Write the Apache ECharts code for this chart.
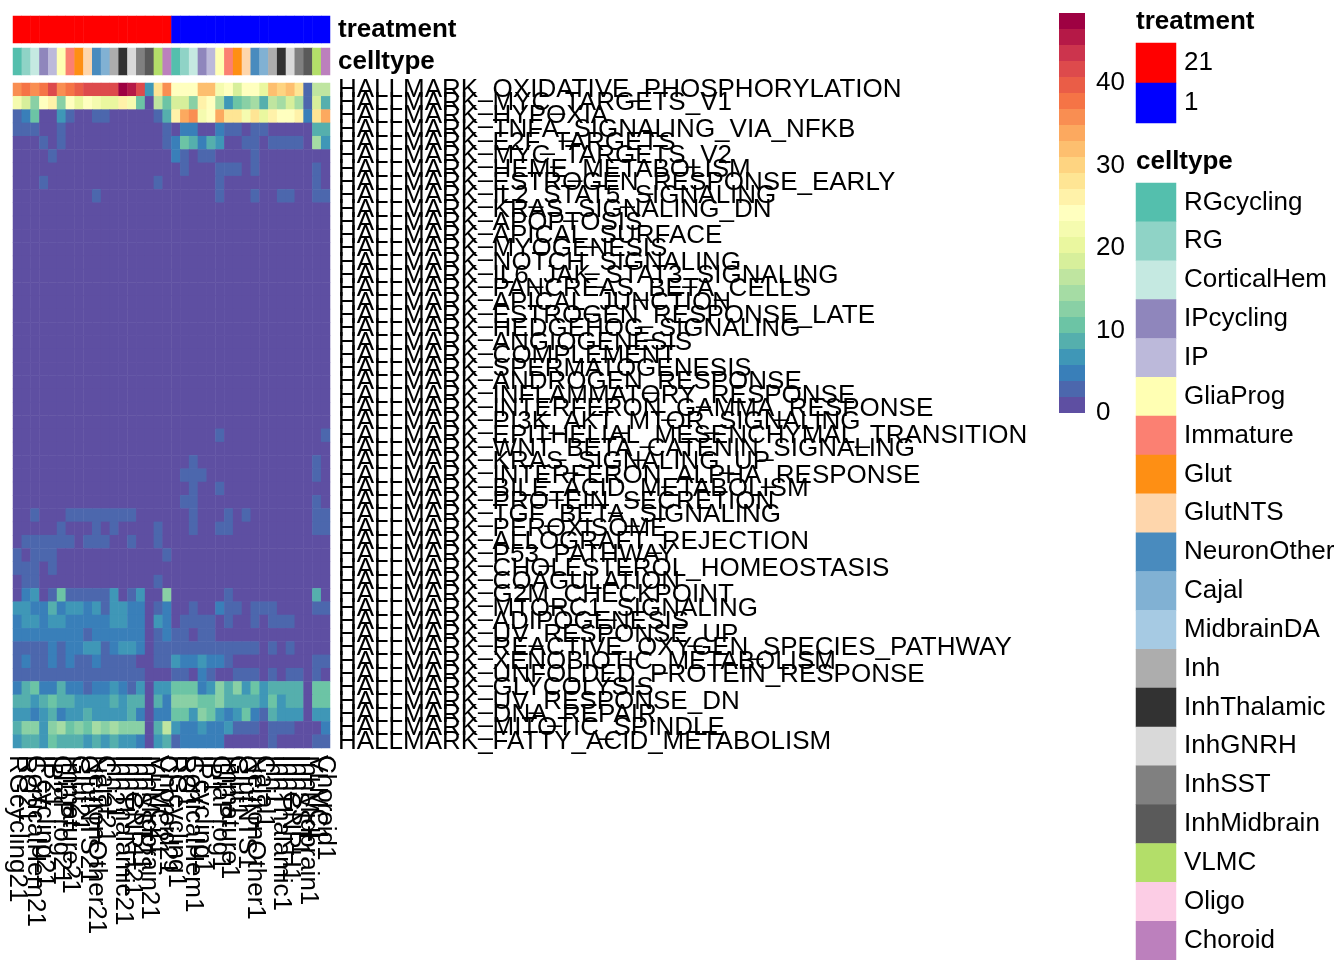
<!DOCTYPE html>
<html><head><meta charset="utf-8">
<style>html,body{margin:0;padding:0;background:#fff;overflow:hidden}#c{width:1344px;height:960px}</style>
<script src="https://cdn.jsdelivr.net/npm/echarts@6/dist/echarts.min.js"></script>
</head><body><div id="c"></div>
<script>
const celltypes = ["RGcycling","RG","CorticalHem","IPcycling","IP","GliaProg","Immature","Glut","GlutNTS","NeuronOther","Cajal","MidbrainDA","Inh","InhThalamic","InhGNRH","InhSST","InhMidbrain","VLMC","Oligo","Choroid"];
const celltypeColors = ["#54BFAD","#8FD3C6","#C5E9E1","#8F86BC","#BCB9DA","#FFFFB3","#FB8072","#FE8F14","#FED6AC","#498BBE","#81B1D3","#A6CAE3","#ADADAD","#323232","#D9D9D9","#808080","#5A5A5A","#B3DE69","#FCCDE5","#BC80BD"];
const columnTypes = ["RGcycling","RG","CorticalHem","IPcycling","IP","GliaProg","Immature","Glut","GlutNTS","NeuronOther","Cajal","Inh","InhThalamic","InhGNRH","InhSST","InhMidbrain","VLMC","Choroid"];
const treatments = ["21","1"];
const treatmentColors = ["#FF0000","#0000FF"];
const palette = ["#5E4FA2","#4C67AD","#397FB9","#3F97B7","#55AFAD","#6CC4A5","#89D0A5","#A5DCA4","#BFE5A0","#D7EF9B","#EAF79F","#F5FBAF","#FFFFBF","#FFF2A9","#FEE594","#FED481","#FDBF6F","#FCA95F","#F98E52","#F57446","#EA5D47","#DD4A4C","#CC344D","#B51947","#9E0142"];
const binSize = 1.94;
const pathways = ["HALLMARK_OXIDATIVE_PHOSPHORYLATION","HALLMARK_MYC_TARGETS_V1","HALLMARK_HYPOXIA","HALLMARK_TNFA_SIGNALING_VIA_NFKB","HALLMARK_E2F_TARGETS","HALLMARK_MYC_TARGETS_V2","HALLMARK_HEME_METABOLISM","HALLMARK_ESTROGEN_RESPONSE_EARLY","HALLMARK_IL2_STAT5_SIGNALING","HALLMARK_KRAS_SIGNALING_DN","HALLMARK_APOPTOSIS","HALLMARK_APICAL_SURFACE","HALLMARK_MYOGENESIS","HALLMARK_NOTCH_SIGNALING","HALLMARK_IL6_JAK_STAT3_SIGNALING","HALLMARK_PANCREAS_BETA_CELLS","HALLMARK_APICAL_JUNCTION","HALLMARK_ESTROGEN_RESPONSE_LATE","HALLMARK_HEDGEHOG_SIGNALING","HALLMARK_ANGIOGENESIS","HALLMARK_COMPLEMENT","HALLMARK_SPERMATOGENESIS","HALLMARK_ANDROGEN_RESPONSE","HALLMARK_INFLAMMATORY_RESPONSE","HALLMARK_INTERFERON_GAMMA_RESPONSE","HALLMARK_PI3K_AKT_MTOR_SIGNALING","HALLMARK_EPITHELIAL_MESENCHYMAL_TRANSITION","HALLMARK_WNT_BETA_CATENIN_SIGNALING","HALLMARK_KRAS_SIGNALING_UP","HALLMARK_INTERFERON_ALPHA_RESPONSE","HALLMARK_BILE_ACID_METABOLISM","HALLMARK_PROTEIN_SECRETION","HALLMARK_TGF_BETA_SIGNALING","HALLMARK_PEROXISOME","HALLMARK_ALLOGRAFT_REJECTION","HALLMARK_P53_PATHWAY","HALLMARK_CHOLESTEROL_HOMEOSTASIS","HALLMARK_COAGULATION","HALLMARK_G2M_CHECKPOINT","HALLMARK_MTORC1_SIGNALING","HALLMARK_ADIPOGENESIS","HALLMARK_UV_RESPONSE_UP","HALLMARK_REACTIVE_OXYGEN_SPECIES_PATHWAY","HALLMARK_XENOBIOTIC_METABOLISM","HALLMARK_UNFOLDED_PROTEIN_RESPONSE","HALLMARK_GLYCOLYSIS","HALLMARK_UV_RESPONSE_DN","HALLMARK_DNA_REPAIR","HALLMARK_MITOTIC_SPINDLE","HALLMARK_FATTY_ACID_METABOLISM"];
const values = [
[36,38,36,38,42,36,38,40,42,42,42,42,48,46,42,7,28,36,24,24,24,32,32,22,24,18,24,24,20,32,30,32,28,3,17,17],
[22,18,13,24,26,13,24,20,24,22,20,20,26,22,11,1,17,11,18,18,13,26,24,15,7,11,13,15,9,17,15,18,15,3,18,9],
[3,5,11,1,1,7,3,1,1,3,3,1,1,1,1,1,3,9,26,34,36,22,24,34,28,28,22,28,20,26,24,24,26,5,28,34],
[3,3,3,1,1,3,1,1,1,1,1,1,1,1,1,1,1,3,1,5,5,1,1,5,3,3,1,3,3,1,1,1,1,1,9,9],
[1,1,1,3,1,3,1,1,1,1,1,1,1,1,1,1,1,3,5,11,9,5,9,7,1,1,3,3,1,3,3,3,3,1,15,7],
[1,1,1,1,3,1,1,1,1,1,1,1,1,1,1,1,1,1,5,3,1,3,3,1,1,1,1,3,1,1,1,1,1,1,1,1],
[1,1,1,1,1,1,1,1,1,1,1,1,1,1,1,1,1,1,1,3,1,1,1,3,3,3,1,3,1,1,1,1,1,1,3,1],
[1,1,1,3,1,1,1,1,1,1,1,1,1,1,1,1,3,1,1,1,1,1,1,3,1,1,1,1,1,1,1,1,1,1,3,1],
[1,1,1,1,1,1,1,1,1,3,1,1,1,1,1,1,1,1,1,1,1,1,1,3,1,1,1,3,1,1,3,3,1,1,3,3],
[1,1,1,1,1,1,1,1,1,1,1,1,1,1,1,1,1,1,1,1,1,1,1,1,1,1,1,1,1,1,1,1,1,1,1,1],
[1,1,1,1,1,1,1,1,1,1,1,1,1,1,1,1,1,1,1,1,1,1,1,1,1,1,1,1,1,1,1,1,1,1,1,1],
[1,1,1,1,1,1,1,1,1,1,1,1,1,1,1,1,1,1,1,1,1,1,1,1,1,1,1,1,1,1,1,1,1,1,1,1],
[1,1,1,1,1,1,1,1,1,1,1,1,1,1,1,1,1,1,1,1,1,1,1,1,1,1,1,1,1,1,1,1,1,1,1,1],
[1,1,1,1,1,1,1,1,1,1,1,1,1,1,1,1,1,1,1,1,1,1,1,1,1,1,1,1,1,1,1,1,1,1,1,1],
[1,1,1,1,1,1,1,1,1,1,1,1,1,1,1,1,1,1,1,1,1,1,1,1,1,1,1,1,1,1,1,1,1,1,1,1],
[1,1,1,1,1,1,1,1,1,1,1,1,1,1,1,1,1,1,1,1,1,1,1,1,1,1,1,1,1,1,1,1,1,1,1,1],
[1,1,1,1,1,1,1,1,1,1,1,1,1,1,1,1,1,1,1,1,1,1,1,1,1,1,1,1,1,1,1,1,1,1,1,1],
[1,1,1,1,1,1,1,1,1,1,1,1,1,1,1,1,1,1,1,1,1,1,1,1,1,1,1,1,1,1,1,1,1,1,1,1],
[1,1,1,1,1,1,1,1,1,1,1,1,1,1,1,1,1,1,1,1,1,1,1,1,1,1,1,1,1,1,1,1,1,1,1,1],
[1,1,1,1,1,1,1,1,1,1,1,1,1,1,1,1,1,1,1,1,1,1,1,1,1,1,1,1,1,1,1,1,1,1,1,1],
[1,1,1,1,1,1,1,1,1,1,1,1,1,1,1,1,1,1,1,1,1,1,1,1,1,1,1,1,1,1,1,1,1,1,1,1],
[1,1,1,1,1,1,1,1,1,1,1,1,1,1,1,1,1,1,1,1,1,1,1,1,1,1,1,1,1,1,1,1,1,1,1,1],
[1,1,1,1,1,1,1,1,1,1,1,1,1,1,1,1,1,1,1,1,1,1,1,1,1,1,1,1,1,1,1,1,1,1,1,1],
[1,1,1,1,1,1,1,1,1,1,1,1,1,1,1,1,1,1,1,1,1,1,1,1,1,1,1,1,1,1,1,1,1,1,1,1],
[1,1,1,1,1,1,1,1,1,1,1,1,1,1,1,1,1,1,1,1,1,1,1,1,1,1,1,1,1,1,1,1,1,1,1,1],
[1,1,1,1,1,1,1,1,1,1,1,1,1,1,1,1,1,1,1,1,1,1,1,1,1,1,1,1,1,1,1,1,1,1,1,1],
[1,1,1,1,1,1,1,1,1,1,1,1,1,1,1,1,1,1,1,1,1,1,1,3,1,1,1,1,1,1,1,1,1,1,1,3],
[1,1,1,1,1,1,1,1,1,1,1,1,1,1,1,1,1,1,1,1,1,1,1,1,1,1,1,1,1,1,1,1,1,1,1,1],
[1,1,1,1,1,1,1,1,1,1,1,1,1,1,1,1,1,1,1,1,3,1,1,1,1,1,1,1,1,1,1,1,1,1,3,1],
[1,1,1,1,1,1,1,1,1,1,1,1,1,1,1,1,1,1,1,3,3,3,1,1,1,1,1,1,1,1,1,1,1,1,3,1],
[1,1,1,1,1,1,1,1,1,1,1,1,1,1,1,1,1,1,1,1,3,1,1,3,1,1,1,1,1,1,1,1,1,1,1,1],
[1,1,1,1,1,1,1,1,1,1,1,1,1,1,1,1,1,1,1,3,3,1,1,1,1,1,1,1,1,1,1,1,1,1,3,1],
[1,1,3,1,1,1,3,3,3,3,3,3,3,3,1,1,1,1,1,1,3,1,1,1,3,1,3,1,1,1,1,1,1,1,3,3],
[1,1,1,1,1,3,1,1,1,3,1,3,1,1,1,1,3,1,1,1,3,1,1,3,3,1,1,1,1,1,1,1,1,1,3,3],
[1,3,3,3,3,3,3,1,3,3,3,1,1,3,1,1,3,1,1,1,1,1,1,1,1,1,1,1,1,1,1,1,1,1,1,1],
[3,1,3,3,3,1,1,1,1,1,1,1,1,1,1,1,1,3,1,1,1,1,1,1,1,1,1,1,1,1,1,1,1,1,1,1],
[3,3,3,1,3,1,1,1,1,1,1,1,1,1,1,1,1,1,1,1,1,1,1,1,1,1,1,1,1,1,1,1,1,1,1,1],
[1,3,3,1,1,1,1,1,1,1,1,1,1,1,1,1,3,1,1,1,1,1,1,1,1,1,1,1,1,1,1,1,1,1,1,1],
[1,5,7,1,3,11,3,3,3,3,3,7,1,3,7,1,1,13,1,1,1,1,1,1,3,1,1,1,1,1,1,1,1,1,9,1],
[7,7,5,5,9,5,7,7,5,7,3,7,7,5,5,1,3,5,1,1,3,1,1,5,3,3,1,3,3,3,1,1,1,1,3,3],
[5,7,7,5,7,7,5,5,5,5,5,7,7,5,5,1,7,5,1,3,3,3,3,1,3,1,1,3,1,3,3,3,1,1,1,1],
[5,5,5,5,5,5,5,5,3,5,5,5,5,5,5,1,3,5,3,3,1,3,3,1,1,1,1,1,1,1,1,1,1,1,1,1],
[3,3,3,3,5,3,5,5,7,7,3,5,7,7,5,1,3,3,3,3,3,3,3,3,3,3,3,3,1,3,1,3,1,1,1,1],
[3,5,3,3,5,3,5,3,3,5,3,3,3,3,1,1,3,3,7,5,5,7,5,5,3,1,1,1,1,1,1,1,1,1,3,3],
[3,3,3,3,3,3,3,3,3,3,3,3,3,3,3,1,1,1,3,3,1,5,3,1,1,3,3,3,1,3,1,3,3,1,3,1],
[5,9,11,5,5,9,5,5,3,5,5,7,5,3,7,1,7,7,11,11,11,5,7,13,9,13,7,11,7,9,9,9,9,1,11,11],
[9,9,7,9,11,9,9,7,7,7,7,9,7,9,9,1,9,5,13,13,13,11,11,13,9,9,9,9,7,11,7,9,9,1,11,11],
[7,7,5,7,9,5,7,7,9,7,7,7,7,9,5,1,5,5,11,11,7,13,11,7,5,7,11,5,3,9,7,7,7,1,7,7],
[9,13,13,7,13,15,11,13,11,15,13,15,13,13,13,1,9,17,7,5,5,7,5,5,7,3,3,3,1,3,3,3,1,1,1,5],
[7,9,9,7,11,9,9,9,7,9,7,9,7,7,5,1,7,9,3,5,5,5,5,5,1,1,1,1,1,3,1,1,1,1,3,3]
];

const font = "Liberation Sans";
const FS = 26;
const columns = treatments.flatMap(t => columnTypes.map(c => c + t));
const colorOf = name => celltypeColors[celltypes.indexOf(name)];

const annotTreatment = columns.map((c, i) => ({value: [i, 0, 0], itemStyle: {color: treatmentColors[i < columnTypes.length ? 0 : 1]}}));
const annotType = columns.map((c, i) => ({value: [i, 0, 0], itemStyle: {color: colorOf(columnTypes[i % columnTypes.length])}}));
const mainData = [];
values.forEach((row, r) => row.forEach((v, c) => mainData.push([c, r, v])));

const catAxis = (gridIndex, data, extra) => Object.assign({
  type: 'category', gridIndex, data, axisLine: {show: false}, axisTick: {show: false},
  splitLine: {show: false}, splitArea: {show: false}, axisLabel: {show: false}
}, extra || {});
const label = (extra) => Object.assign({show: true, interval: 0, hideOverlap: false, color: '#000', fontFamily: font, fontSize: FS}, extra);

const option = {
  animation: false,
  backgroundColor: '#fff',
  title: [
    {text: 'treatment', left: 1136, top: 9, padding: 0, textStyle: {fontFamily: font, fontSize: FS, fontWeight: 'bold', color: '#000'}},
    {text: 'celltype', left: 1136, top: 149, padding: 0, textStyle: {fontFamily: font, fontSize: FS, fontWeight: 'bold', color: '#000'}}
  ],
  grid: [
    {left: 13, top: 16, width: 317, height: 27},
    {left: 13, top: 48, width: 317, height: 27},
    {left: 13, top: 83, width: 317, height: 665},
    {left: 1059, top: 13, width: 26, height: 400},
    {left: 1136, top: 43, width: 40, height: 80},
    {left: 1136, top: 183, width: 40, height: 800}
  ],
  xAxis: [
    catAxis(0, columns),
    catAxis(1, columns),
    catAxis(2, columns, {position: 'bottom', axisLabel: label({rotate: -90, margin: 7})}),
    catAxis(3, ['scale']),
    catAxis(4, ['key']),
    catAxis(5, ['key'])
  ],
  yAxis: [
    catAxis(0, ['treatment'], {position: 'right', axisLabel: label({margin: 8, fontWeight: 'bold'})}),
    catAxis(1, ['celltype'], {position: 'right', axisLabel: label({margin: 8, fontWeight: 'bold'})}),
    catAxis(2, pathways, {position: 'right', inverse: true, axisLabel: label({margin: 8})}),
    {type: 'value', gridIndex: 3, position: 'right', min: 0, max: 48.5, interval: 10,
     axisLine: {show: false}, axisTick: {show: false}, splitLine: {show: false},
     axisLabel: label({margin: 11, showMaxLabel: false, showMinLabel: true})},
    catAxis(4, treatments, {position: 'right', inverse: true, axisLabel: label({margin: 8})}),
    catAxis(5, celltypes, {position: 'right', inverse: true, axisLabel: label({margin: 8})})
  ],
  visualMap: {
    type: 'piecewise', show: false, seriesIndex: 2, dimension: 2,
    pieces: palette.map((color, i) => ({min: i * binSize, max: (i + 1) * binSize, color}))
  },
  series: [
    {type: 'heatmap', xAxisIndex: 0, yAxisIndex: 0, data: annotTreatment, silent: true},
    {type: 'heatmap', xAxisIndex: 1, yAxisIndex: 1, data: annotType, silent: true},
    {type: 'heatmap', xAxisIndex: 2, yAxisIndex: 2, data: mainData, silent: true},
    {type: 'custom', xAxisIndex: 3, yAxisIndex: 3, silent: true, clip: false,
     data: palette.map((c, i) => [0, i * binSize, (i + 1) * binSize]),
     encode: {x: 0, y: [1, 2]},
     renderItem: (params, api) => {
       const a = api.coord([api.value(0), api.value(1)]);
       const b = api.coord([api.value(0), api.value(2)]);
       const w = api.size([1, 0])[0];
       return {type: 'rect', shape: {x: a[0] - w / 2, y: b[1], width: w, height: a[1] - b[1]},
               style: {fill: palette[params.dataIndex]}};
     }},
    {type: 'heatmap', xAxisIndex: 4, yAxisIndex: 4, silent: true,
     data: treatments.map((t, i) => ({value: [0, i, 0], itemStyle: {color: treatmentColors[i]}}))},
    {type: 'heatmap', xAxisIndex: 5, yAxisIndex: 5, silent: true,
     data: celltypes.map((t, i) => ({value: [0, i, 0], itemStyle: {color: celltypeColors[i]}}))}
  ]
};
const chart = echarts.init(document.getElementById('c'), null, {renderer: 'canvas', width: 1344, height: 960});
chart.setOption(option);
</script></body></html>
